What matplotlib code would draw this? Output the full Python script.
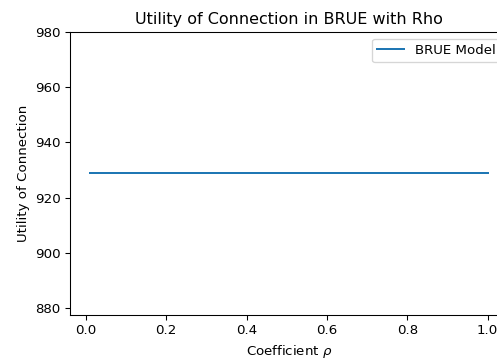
import matplotlib
matplotlib.use("Agg")
import matplotlib.pyplot as plt

rho = [0.01, 0.1, 0.2, 0.3, 0.4, 0.5, 0.6, 0.7, 0.8, 0.9, 1.0]
utility = [929.0, 929.0, 929.0, 929.0, 929.0, 929.0, 929.0, 929.0, 929.0, 929.0, 929.0]

DPI = 96
plt.rcParams['font.size'] = 10
fig = plt.figure(figsize=(497/DPI, 360/DPI), dpi=DPI)
ax = fig.add_axes([70/497, 45/360, 437.5/497, 283/360])
ax.plot(rho, utility, label="BRUE Model")
ax.set_ylim(877.5, 980)
ax.set_yticks([880, 900, 920, 940, 960, 980])
ax.set_xticks([0.0, 0.2, 0.4, 0.6, 0.8, 1.0])
ax.set_title("Utility of Connection in BRUE with Rho", fontsize=12)
ax.set_xlabel(r"Coefficient $\rho$")
ax.set_ylabel("Utility of Connection")
ax.legend(loc="upper right")
fig.savefig("out.png", dpi=DPI)
